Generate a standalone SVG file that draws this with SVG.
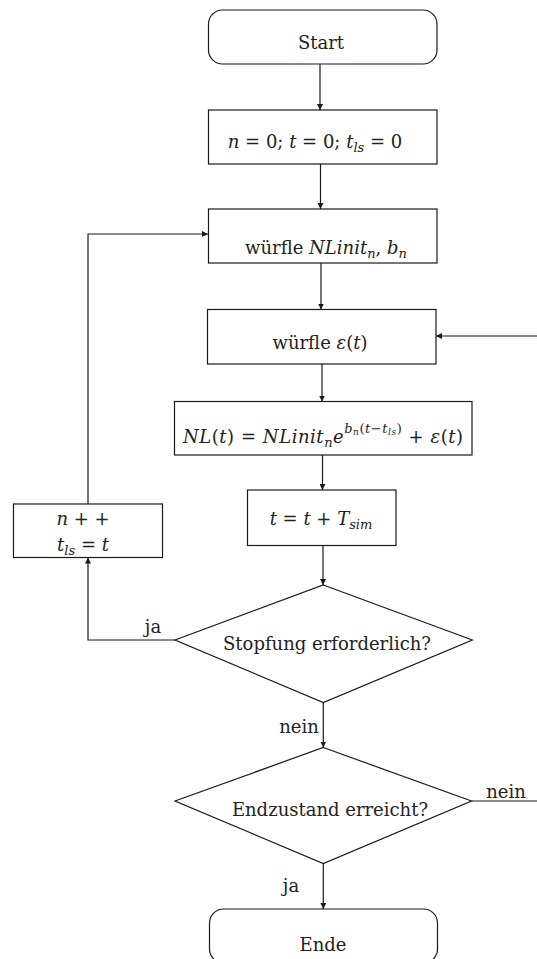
<svg xmlns="http://www.w3.org/2000/svg" width="537" height="959" viewBox="0 0 537 959" font-family="DejaVu Serif, serif" font-size="18">
  <style>
    .shape { fill: #ffffff; stroke: #1a1a1a; stroke-width: 1.2; }
    .wire { fill: none; stroke: #1a1a1a; stroke-width: 1.2; }
    text { fill: #222222; }
    .c { text-anchor: middle; }
    .i { font-style: italic; }
    .sub { font-size: 13px; font-style: italic; }
    .sub2 { font-size: 9px; font-style: italic; }
    .sup { font-size: 13px; }
  </style>
  <defs>
    <marker id="arrow" viewBox="0 0 10 10" refX="10" refY="5" markerWidth="6" markerHeight="6" markerUnits="userSpaceOnUse" orient="auto">
      <path d="M0,0 L10,5 L0,10 Z" fill="#1a1a1a"/>
    </marker>
  </defs>

  <!-- connectors -->
  <g id="connectors">
    <line class="wire" x1="320" y1="64" x2="320" y2="110" marker-end="url(#arrow)"/>
    <line class="wire" x1="320.5" y1="164" x2="320.5" y2="209" marker-end="url(#arrow)"/>
    <line class="wire" x1="321" y1="263" x2="321" y2="309.5" marker-end="url(#arrow)"/>
    <line class="wire" x1="537" y1="336" x2="436" y2="336" marker-end="url(#arrow)"/>
    <line class="wire" x1="322" y1="364" x2="322" y2="401.5" marker-end="url(#arrow)"/>
    <line class="wire" x1="322.5" y1="455" x2="322.5" y2="490" marker-end="url(#arrow)"/>
    <line class="wire" x1="323" y1="545.5" x2="323" y2="585" marker-end="url(#arrow)"/>
    <polyline class="wire" points="175,640 88,640 88,557.5" marker-end="url(#arrow)"/>
    <polyline class="wire" points="88,504 88,234 208,234" marker-end="url(#arrow)"/>
    <line class="wire" x1="323.3" y1="702.5" x2="323.3" y2="747.5" marker-end="url(#arrow)"/>
    <line class="wire" x1="471.5" y1="801" x2="537" y2="801"/>
    <line class="wire" x1="323.3" y1="863.5" x2="323.3" y2="909" marker-end="url(#arrow)"/>
    <text x="153" y="633" class="c">ja</text>
    <text x="299" y="733" class="c">nein</text>
    <text x="506" y="798" class="c">nein</text>
    <text x="291" y="892" class="c">ja</text>
  </g>

  <g id="start">
    <rect class="shape" x="208.5" y="10" width="228.5" height="54" rx="14" ry="14"/>
    <text x="321" y="49" class="c">Start</text>
  </g>

  <g id="init">
    <rect class="shape" x="208.5" y="110" width="228.5" height="54"/>
    <text x="315" y="148" class="c"><tspan class="i">n</tspan> = 0; <tspan class="i">t</tspan> = 0; <tspan class="i">t</tspan><tspan class="sub" dy="4">ls</tspan><tspan dy="-4"> = 0</tspan></text>
  </g>

  <g id="draw-nlinit">
    <rect class="shape" x="208.5" y="209" width="228.5" height="54"/>
    <text x="326" y="254" class="c">würfle <tspan class="i">NLinit</tspan><tspan class="sub" dy="4">n</tspan><tspan dy="-4">, </tspan><tspan class="i">b</tspan><tspan class="sub" dy="4">n</tspan></text>
  </g>

  <g id="draw-eps">
    <rect class="shape" x="207.5" y="309.5" width="228.5" height="54.5"/>
    <text x="320" y="349" class="c">würfle <tspan class="i">ε</tspan>(<tspan class="i">t</tspan>)</text>
  </g>

  <g id="noise-level">
    <rect class="shape" x="174.5" y="401.5" width="297.5" height="53.5"/>
    <text x="323" y="443" class="c" textLength="280" lengthAdjust="spacing"><tspan class="i">NL</tspan>(<tspan class="i">t</tspan>) = <tspan class="i">NLinit</tspan><tspan class="sub" dy="4">n</tspan><tspan class="i" dy="-4">e</tspan><tspan class="sup i" dy="-10">b</tspan><tspan class="sub2" dy="2">n</tspan><tspan class="sup" dy="-2">(</tspan><tspan class="sup i">t</tspan><tspan class="sup">−</tspan><tspan class="sup i">t</tspan><tspan class="sub2" dy="2">ls</tspan><tspan class="sup" dy="-2">)</tspan><tspan dy="10"> + </tspan><tspan class="i">ε</tspan>(<tspan class="i">t</tspan>)</text>
  </g>

  <g id="time-step">
    <rect class="shape" x="247.5" y="490" width="148.5" height="55.5"/>
    <text x="321" y="525" class="c"><tspan class="i">t</tspan> = <tspan class="i">t</tspan> + <tspan class="i">T</tspan><tspan class="sub" dy="4">sim</tspan></text>
  </g>

  <g id="next-clog">
    <rect class="shape" x="13.5" y="504" width="149" height="53.5"/>
    <text x="83" y="525" class="c"><tspan class="i">n</tspan> + +</text>
    <text x="83" y="551" class="c"><tspan class="i">t</tspan><tspan class="sub" dy="4">ls</tspan><tspan dy="-4"> = </tspan><tspan class="i">t</tspan></text>
  </g>

  <g id="clog-check">
    <polygon class="shape" points="323.3,585 472.3,640 323.3,702.5 175,640"/>
    <text x="327" y="650" class="c">Stopfung erforderlich?</text>
  </g>

  <g id="end-check">
    <polygon class="shape" points="323.3,747.5 471.5,801 323.3,863.5 175,801"/>
    <text x="330" y="816" class="c">Endzustand erreicht?</text>
  </g>

  <g id="end">
    <rect class="shape" x="209.5" y="909" width="228" height="54" rx="14" ry="14"/>
    <text x="323" y="951" class="c">Ende</text>
  </g>
</svg>
